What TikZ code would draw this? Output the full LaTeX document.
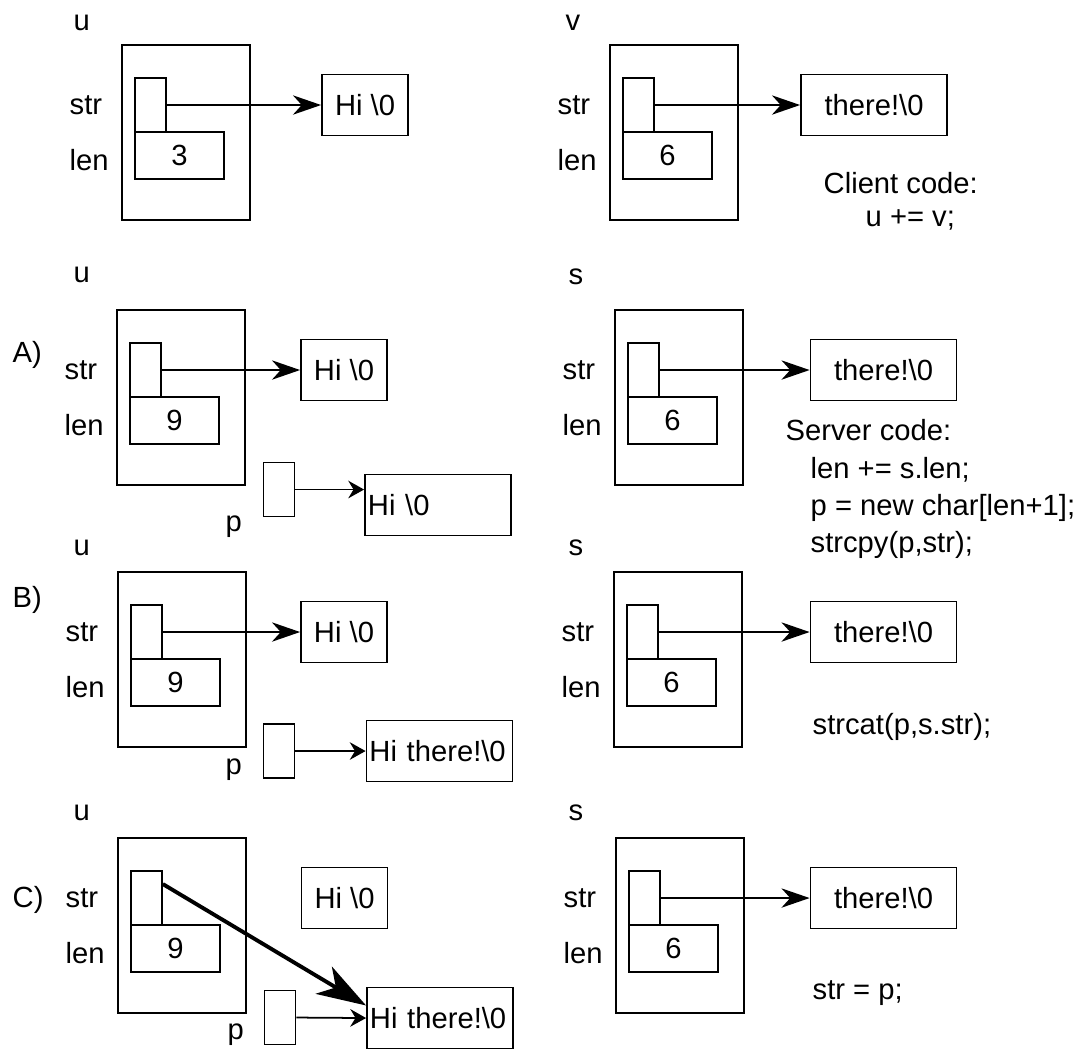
\documentclass[tikz,border=0pt]{standalone}
\usepackage{fontspec}
\setmainfont{Liberation Sans}
\usetikzlibrary{arrows.meta, calc}

\begin{document}
\begin{tikzpicture}[x=0.01cm, y=-0.01cm, font=\fontsize{8.3}{10}\selectfont]
  \useasboundingbox (0,0) rectangle (1092,1050);

  % --- STYLE DEFINITIONS ---
  \tikzstyle{box}=[draw, line width=0.5pt, inner sep=0pt]
  \tikzstyle{outerbox}=[box, minimum width=1.28cm, minimum height=1.75cm]
  \tikzstyle{ptrbox}=[box, minimum width=0.31cm, minimum height=0.54cm]
  \tikzstyle{lenbox}=[box, minimum width=0.89cm, minimum height=0.47cm]
  \tikzstyle{hibox}=[box, minimum width=0.86cm, minimum height=0.61cm]
  \tikzstyle{therebox}=[box, minimum width=1.46cm, minimum height=0.61cm]
  \tikzstyle{bigbox}=[box, minimum height=0.61cm, text width=1.40cm, inner xsep=0.03cm, align=left]
  \tikzstyle{lbl}=[inner sep=0pt, anchor=west]
  \tikzstyle{link}=[->, line width=0.5pt, >={Stealth[length=8pt, width=5.5pt, inset=2.5pt]}]
  \tikzstyle{plink}=[->, line width=0.5pt, >={Stealth[length=4.5pt, width=5pt, inset=1.5pt]}]
  \tikzstyle{newlink}=[->, line width=1.1pt, >={Stealth[length=14pt, width=9pt, inset=4pt]}]

  % --- MACRO FOR ONE STRING OBJECT (origin = top-left corner) ---
  \newcommand{\strobject}[3]{
    \begin{scope}[shift={(#1)}]
      \node[outerbox] (#2) at (64, 87.5) {};
      \node[ptrbox] (#2str) at (28.5, 60) {};
      \node[lenbox] (#2len) at (57.5, 110.5) {#3};
      \node[lbl] (#2strlbl) at (-53, 60) {str};
      \node[lbl] (#2lenlbl) at (-53, 115) {len};
    \end{scope}
  }

  % =================================================================
  % ROW 0: BEFORE THE CALL
  % =================================================================
  \node[lbl] (u0name) at (73,23) {u};
  \strobject{122,45}{u0}{3}
  \node[hibox] (hi0) at (365,105) {Hi \textbackslash 0};
  \draw[link] (u0str.east) -- (hi0.west);

  \node[lbl] (v0name) at (565,23) {v};
  \strobject{610,45}{v0}{6}
  \node[therebox] (there0) at (874,105) {there!\textbackslash 0};
  \draw[link] (v0str.east) -- (there0.west);
  \node[lbl] (client) at (823,183) {Client code:};
  \node[lbl] (clientop) at (865,220) {u += v;};

  % =================================================================
  % ROW A: NEW BUFFER, COPY OF str
  % =================================================================
  \node[lbl] (rowA) at (12,355) {A)};
  \node[lbl] (uAname) at (73,275) {u};
  \strobject{117,310}{uA}{9}
  \node[hibox] (hiA) at (344,370) {Hi \textbackslash 0};
  \draw[link] (uAstr.east) -- (hiA.west);
  \node[ptrbox] (pA) at (279,489.5) {};
  \node[lbl] (pAname) at (225,527) {p};
  \node[bigbox] (bigA) at (438,505) {Hi \textbackslash 0};
  \draw[plink] (pA.east) -- (pA.east -| bigA.west);

  \node[lbl] (sAname) at (568,277) {s};
  \strobject{615,310}{sA}{6}
  \node[therebox] (thereA) at (883.5,370) {there!\textbackslash 0};
  \draw[link] (sAstr.east) -- (thereA.west);
  \node[lbl] (server) at (785,430) {Server code:};
  \node[lbl] (serverone) at (810,470) {len += s.len;};
  \node[lbl] (servertwo) at (810,508) {p = new char[len+1];};
  \node[lbl] (serverthree) at (810,545) {strcpy(p,str);};

  % =================================================================
  % ROW B: strcat INTO THE NEW BUFFER
  % =================================================================
  \node[lbl] (rowB) at (12,600) {B)};
  \node[lbl] (uBname) at (73,548) {u};
  \strobject{118,572}{uB}{9}
  \node[hibox] (hiB) at (344,632) {Hi \textbackslash 0};
  \draw[link] (uBstr.east) -- (hiB.west);
  \node[ptrbox] (pB) at (279,751) {};
  \node[lbl] (pBname) at (225,770) {p};
  \node[bigbox] (bigB) at (439.5,751) {Hi there!\textbackslash 0};
  \draw[plink] (pB.east) -- (bigB.west);

  \node[lbl] (sBname) at (568,548) {s};
  \strobject{614,572}{sB}{6}
  \node[therebox] (thereB) at (883.5,632) {there!\textbackslash 0};
  \draw[link] (sBstr.east) -- (thereB.west);
  \node[lbl] (catcode) at (812,727) {strcat(p,s.str);};

  % =================================================================
  % ROW C: str POINTS TO THE NEW BUFFER
  % =================================================================
  \node[lbl] (rowC) at (12,900) {C)};
  \node[lbl] (uCname) at (73,813) {u};
  \strobject{118,838}{uC}{9}
  \node[hibox] (hiC) at (344.5,898) {Hi \textbackslash 0};
  \node[ptrbox] (pC) at (280,1017.5) {};
  \node[lbl] (pCname) at (227,1035) {p};
  \node[bigbox] (bigC) at (440,1018) {Hi there!\textbackslash 0};
  \draw[plink] (pC.east) -- (bigC.west);
  \draw[newlink] ($(uCstr.north east)!0.25!(uCstr.south east)$) -- ($(bigC.north west)!0.3!(bigC.south west)$);

  \node[lbl] (sCname) at (568,813) {s};
  \strobject{616,838}{sC}{6}
  \node[therebox] (thereC) at (883.5,898) {there!\textbackslash 0};
  \draw[link] (sCstr.east) -- (thereC.west);
  \node[lbl] (assign) at (812,993) {str = p;};

\end{tikzpicture}
\end{document}
